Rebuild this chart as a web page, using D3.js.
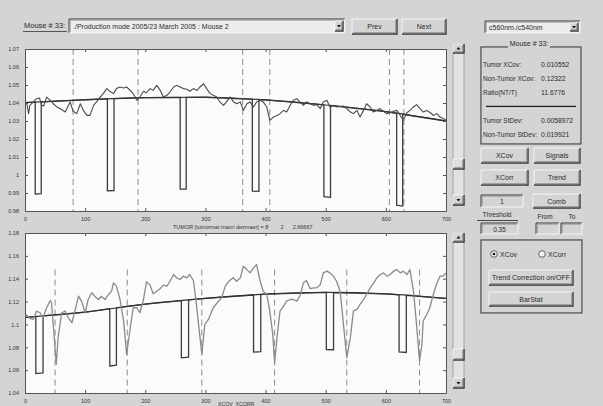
<!DOCTYPE html>
<html>
<head>
<meta charset="utf-8">
<script src="https://cdn.jsdelivr.net/npm/d3@7"></script>
<style>
  body { margin: 0; background: #d4d4d4; }
  svg { display: block; }
  text { font-family: "Liberation Sans", Arial, sans-serif; white-space: pre; }
</style>
</head>
<body>
<svg id="fig" width="603" height="406"></svg>
<script>
// ---------- data ----------
const xTicks = [0, 100, 200, 300, 400, 500, 600, 700];
const topYTicks = [1.07, 1.06, 1.05, 1.04, 1.03, 1.02, 1.01, 1.0, 0.99, 0.98];
const topYLabels = ["1.07", "1.06", "1.05", "1.04", "1.03", "1.02", "1.01", "1", "0.99", "0.98"];
const botYTicks = [1.18, 1.16, 1.14, 1.12, 1.10, 1.08, 1.06, 1.04];
const botYLabels = ["1.18", "1.16", "1.14", "1.12", "1.1", "1.08", "1.06", "1.04"];

// ratio signal, upper panel
const topSignalX = [0,3,6,8,14,19,24,28,31,36,42,47,53,58,67,75,80,86,92,97,103,108,114,119,125,130,136,141,147,152,158,164,169,175,180,186,191,197,202,208,213,219,225,230,236,241,247,252,258,263,269,274,280,286,291,297,302,308,313,319,324,330,335,341,347,352,358,363,369,374,380,385,391,396,402,407,413,419,424,430,435,441,446,452,457,463,468,474,480,485,491,496,502,507,513,518,529,535,541,546,552,557,563,568,574,579,585,590,596,601,607,613,618,624,629,635,640,646,651,657,662,668,674,679,685,690,696,700];
const topSignalY = [1.0396,1.0396,1.0341,1.0387,1.0406,1.0424,1.0428,1.0387,1.0383,1.0433,1.0415,1.0396,1.0378,1.0369,1.0350,1.0406,1.0354,1.0341,1.0396,1.0359,1.0331,1.0331,1.0387,1.0406,1.0433,1.0452,1.0480,1.0465,1.0452,1.0480,1.0489,1.0483,1.0489,1.0470,1.0452,1.0415,1.0433,1.0465,1.0457,1.0480,1.0470,1.0498,1.0470,1.0433,1.0443,1.0461,1.0489,1.0498,1.0489,1.0480,1.0476,1.0465,1.0480,1.0470,1.0489,1.0507,1.0480,1.0452,1.0443,1.0433,1.0406,1.0387,1.0406,1.0433,1.0406,1.0396,1.0406,1.0359,1.0396,1.0406,1.0378,1.0406,1.0415,1.0406,1.0378,1.0304,1.0322,1.0331,1.0341,1.0359,1.0350,1.0387,1.0415,1.0424,1.0406,1.0387,1.0406,1.0396,1.0387,1.0391,1.0369,1.0406,1.0415,1.0378,1.0387,1.0378,1.0383,1.0369,1.0350,1.0341,1.0359,1.0322,1.0359,1.0396,1.0378,1.0350,1.0359,1.0369,1.0354,1.0341,1.0346,1.0354,1.0359,1.0331,1.0304,1.0346,1.0359,1.0378,1.0391,1.0369,1.0350,1.0359,1.0346,1.0331,1.0341,1.0322,1.0313,1.0304];
const topTrendX = [0, 100, 200, 300, 400, 500, 600, 700];
const topTrendY = [1.0402, 1.0418, 1.0430, 1.0432, 1.0417, 1.0389, 1.0352, 1.0300];
const topDipStart = [17, 137, 258, 378, 497, 618];
const topDipEnd = [27, 148, 268, 389, 508, 628];
const topDipDepth = 0.051;
const topMarkers = [80, 188, 362, 407, 606, 630];

// ratio signal, lower panel
const botSignalX = [0,3,8,14,19,25,30,36,42,44,47,52,55,61,67,72,78,83,89,94,100,105,111,116,122,127,133,139,144,147,152,158,164,169,175,180,186,191,197,202,208,213,219,225,230,236,241,247,252,258,263,269,274,280,285,291,294,299,305,313,322,327,333,338,346,352,358,363,369,374,380,385,391,396,402,407,412,415,419,424,430,435,441,446,452,457,463,468,474,480,485,491,496,502,507,513,518,524,529,535,541,546,552,557,563,568,574,580,585,591,596,602,607,613,618,624,629,635,640,646,651,656,660,662,668,673,679,684,690,695,700];
const botSignalY = [1.1064,1.1082,1.1052,1.1044,1.1116,1.1102,1.1058,1.1146,1.1210,1.1189,1.1000,1.0651,1.0884,1.1102,1.1116,1.1058,1.1015,1.1116,1.1247,1.1204,1.1102,1.1218,1.1277,1.1247,1.1218,1.1247,1.1218,1.1262,1.1291,1.1364,1.1335,1.1218,1.1029,1.0738,1.0971,1.1146,1.1146,1.1102,1.1218,1.1373,1.1344,1.1268,1.1291,1.1314,1.1344,1.1335,1.1378,1.1437,1.1408,1.1393,1.1422,1.1408,1.1437,1.1384,1.1175,1.0884,1.0738,1.1000,1.1044,1.1146,1.1204,1.1233,1.1335,1.1373,1.1408,1.1378,1.1408,1.1509,1.1480,1.1451,1.1495,1.1524,1.1378,1.1291,1.1262,1.1116,1.0913,1.0665,1.0884,1.1116,1.1160,1.1204,1.1218,1.1218,1.1204,1.1247,1.1364,1.1384,1.1314,1.1320,1.1320,1.1349,1.1451,1.1466,1.1451,1.1422,1.1378,1.1291,1.1029,1.0709,1.0884,1.1116,1.1131,1.1175,1.1218,1.1262,1.1320,1.1364,1.1408,1.1437,1.1451,1.1422,1.1437,1.1466,1.1480,1.1451,1.1466,1.1437,1.1480,1.1291,1.1000,1.0680,1.0825,1.1029,1.1087,1.1146,1.1262,1.1349,1.1422,1.1422,1.1451];
const botTrendX = [0, 100, 200, 300, 400, 500, 600, 700];
const botTrendY = [1.1062, 1.1108, 1.1178, 1.1228, 1.1265, 1.1280, 1.1268, 1.1228];
const botDipStart = [18, 141, 260, 380, 501, 622];
const botDipEnd = [30, 152, 272, 392, 513, 634];
const botDipDepth = 0.050;
const botMarkers = [50, 170, 294, 415, 535, 656];
const botMarkerTop = 1.148;

// panel texts
const fileName = "./Production mode 2005/23 March 2005 : Mouse 2";
const mouseLabel = "Mouse # 33:";
const channelName = "c560nm./c540nm";
const statLabels = ["Tumor XCov:", "Non-Tumor XCov:", "Ratio(NT/T)", "Tumor StDev:", "Non-Tumor StDev:"];
const statValues = ["0.010552", "0.12322", "11.6776", "0.0058972", "0.019921"];
const xLabelTop = "TUMOR [tumormat macri dezmaer] = 8        2      2.66667";
const xLabelBot = "XCOV  XCORR";

// ---------- drawing ----------
const svg = d3.select("#fig");
const FACE = "#d4d4d4", HI = "#f4f4f4", SH = "#8a8a8a", DK = "#3a3a3a", TXT = "#2a2a2a";

function bevel(x, y, w, h, raised, fill) {
  const g = svg.append("g");
  g.append("rect").attr("x", x).attr("y", y).attr("width", w).attr("height", h).attr("fill", fill || FACE);
  const a = raised ? HI : DK, b = raised ? DK : HI;
  g.append("path").attr("d", `M${x},${y + h}V${y}H${x + w}`).attr("fill", "none").attr("stroke", a).attr("stroke-width", 1);
  g.append("path").attr("d", `M${x},${y + h}H${x + w}V${y}`).attr("fill", "none").attr("stroke", b).attr("stroke-width", raised ? 1.4 : 1);
  if (raised) g.append("path").attr("d", `M${x + 1},${y + h - 1.2}H${x + w - 1.2}V${y + 1}`).attr("fill", "none").attr("stroke", SH);
  else g.append("path").attr("d", `M${x + 1},${y + h - 1}V${y + 1}H${x + w - 1}`).attr("fill", "none").attr("stroke", SH);
  return g;
}
function label(x, y, s, anchor, size, fill) {
  return svg.append("text").attr("x", x).attr("y", y).attr("text-anchor", anchor || "start")
    .attr("font-size", size || 7).attr("fill", fill || TXT).text(s);
}
function button(x, y, w, h, s) {
  bevel(x, y, w, h, true);
  label(x + w / 2, y + h / 2 + 2.5, s, "middle", 7);
}
function arrowBox(x, y, w, h, down) {
  bevel(x, y, w, h, true);
  const cx = x + w / 2, cy = y + h / 2;
  const p = down ? `M${cx - 2},${cy - 1}L${cx + 2},${cy - 1}L${cx},${cy + 1.5}Z` : `M${cx - 2},${cy + 1}L${cx + 2},${cy + 1}L${cx},${cy - 1.5}Z`;
  svg.append("path").attr("d", p).attr("fill", "#111");
}
function popup(x, y, w, h, s) {
  bevel(x, y, w, h, false, "#ececec");
  label(x + 4, y + h / 2 + 2.5, s, "start", 7);
  arrowBox(x + w - 10, y + 2, 8, h - 4, true);
}

// top controls
label(24, 28, mouseLabel, "start", 7.5);
svg.append("line").attr("x1", 23).attr("x2", 67).attr("y1", 31.5).attr("y2", 31.5).attr("stroke", "#555");
popup(69, 19, 276, 14, fileName);
button(352, 19, 45, 15, "Prev");
button(402, 19, 44, 15, "Next");

// plot panels
function panel(cfg) {
  const x = d3.scaleLinear().domain([0, 700]).range([cfg.l, cfg.r]);
  const y = d3.scaleLinear().domain(cfg.yDomain).range([cfg.b, cfg.t]);
  const g = svg.append("g");
  g.append("rect").attr("x", cfg.l).attr("y", cfg.t).attr("width", cfg.r - cfg.l).attr("height", cfg.b - cfg.t).attr("fill", "#fbfbfb");

  const clipId = "clip" + cfg.t;
  svg.append("clipPath").attr("id", clipId).append("rect")
    .attr("x", cfg.l).attr("y", cfg.t).attr("width", cfg.r - cfg.l).attr("height", cfg.b - cfg.t);
  const plot = g.append("g").attr("clip-path", `url(#${clipId})`);

  // event markers
  plot.selectAll("line.mk").data(cfg.markers).join("line").attr("class", "mk")
    .attr("x1", d => x(d)).attr("x2", d => x(d))
    .attr("y1", y(cfg.markerTop)).attr("y2", y(cfg.yDomain[0]))
    .attr("stroke", "#8c8c8c").attr("stroke-width", 1).attr("stroke-dasharray", "6,4");

  // trend and comb step signal
  const trendAt = d3.scaleLinear().domain(cfg.trendX).range(cfg.trendY);
  const stepPts = [[0, trendAt(0)]];
  let prev = 0;
  cfg.dipStart.forEach((s, i) => {
    cfg.trendX.filter(t => t > prev && t < s).forEach(t => stepPts.push([t, trendAt(t)]));
    stepPts.push([s, trendAt(s)], [s, trendAt(s) - cfg.depth], [cfg.dipEnd[i], trendAt(cfg.dipEnd[i]) - cfg.depth], [cfg.dipEnd[i], trendAt(cfg.dipEnd[i])]);
    prev = cfg.dipEnd[i];
  });
  cfg.trendX.filter(t => t > prev).forEach(t => stepPts.push([t, trendAt(t)]));

  const lin = d3.line().x(d => x(d[0])).y(d => y(d[1]));
  plot.append("path").datum(stepPts).attr("d", lin).attr("fill", "none").attr("stroke", "#3c3c3c").attr("stroke-width", 1.3);

  const trend = cfg.trendX.map((t, i) => [t, cfg.trendY[i]]);
  plot.append("path").datum(trend).attr("d", d3.line().x(d => x(d[0])).y(d => y(d[1])).curve(d3.curveMonotoneX))
    .attr("fill", "none").attr("stroke", "#333").attr("stroke-width", 1.2);

  const sig = cfg.sigX.map((t, i) => [t, cfg.sigY[i]]);
  plot.append("path").datum(sig).attr("d", lin).attr("fill", "none")
    .attr("stroke", cfg.sigColor).attr("stroke-width", cfg.sigWidth).attr("stroke-linejoin", "round");

  // axes (ticks point inward on all four sides)
  const styleAxis = a => {
    a.select(".domain").attr("stroke", "#555");
    a.selectAll(".tick line").attr("stroke", "#555");
    a.selectAll(".tick text").attr("font-size", 5.5).attr("fill", "#333").attr("font-family", "Liberation Sans, Arial, sans-serif");
  };
  g.append("g").attr("transform", `translate(0,${cfg.b})`)
    .call(d3.axisBottom(x).tickValues(xTicks).tickSize(-3).tickSizeOuter(0).tickPadding(6).tickFormat(d3.format("d"))).call(styleAxis);
  g.append("g").attr("transform", `translate(0,${cfg.t})`)
    .call(d3.axisTop(x).tickValues(xTicks).tickSize(-3).tickSizeOuter(0).tickFormat("")).call(styleAxis);
  g.append("g").attr("transform", `translate(${cfg.l},0)`)
    .call(d3.axisLeft(y).tickValues(cfg.yTicks).tickSize(-3).tickSizeOuter(0).tickPadding(6).tickFormat((d, i) => cfg.yLabels[i])).call(styleAxis);
  g.append("g").attr("transform", `translate(${cfg.r},0)`)
    .call(d3.axisRight(y).tickValues(cfg.yTicks).tickSize(-3).tickSizeOuter(0).tickFormat("")).call(styleAxis);
}

panel({
  l: 25, r: 446, t: 49, b: 211, yDomain: [0.98, 1.07], yTicks: topYTicks, yLabels: topYLabels,
  sigX: topSignalX, sigY: topSignalY, sigColor: "#4a4a4a", sigWidth: 1.1,
  trendX: topTrendX, trendY: topTrendY, dipStart: topDipStart, dipEnd: topDipEnd, depth: topDipDepth,
  markers: topMarkers, markerTop: 1.07
});
panel({
  l: 25, r: 446, t: 233, b: 393, yDomain: [1.04, 1.18], yTicks: botYTicks, yLabels: botYLabels,
  sigX: botSignalX, sigY: botSignalY, sigColor: "#8a8a8a", sigWidth: 1.3,
  trendX: botTrendX, trendY: botTrendY, dipStart: botDipStart, dipEnd: botDipEnd, depth: botDipDepth,
  markers: botMarkers, markerTop: botMarkerTop
});

label(173, 228.5, xLabelTop, "start", 5.5, "#333");
label(218, 405.6, xLabelBot, "start", 5.2, "#333");

// scrollbars beside the plots
function scrollbar(x, y0, y1, thumbY, thumbH) {
  svg.append("rect").attr("x", x).attr("y", y0).attr("width", 11).attr("height", y1 - y0)
    .attr("fill", "#e2e2e2").attr("stroke", "#9a9a9a").attr("stroke-width", 0.8);
  arrowBox(x, y0, 11, 9, false);
  arrowBox(x, y1 - 10, 11, 10, true);
  bevel(x, thumbY, 11, thumbH, true, "#dedede");
}
scrollbar(453, 44, 205, 159, 10);
scrollbar(453, 233, 388, 349, 11);

// right-hand panel
popup(485, 21, 95, 12, channelName);

function groupBox(x, y, w, h) {
  svg.append("rect").attr("x", x + 0.5).attr("y", y + 0.5).attr("width", w).attr("height", h).attr("fill", "none").attr("stroke", HI);
  svg.append("rect").attr("x", x).attr("y", y).attr("width", w).attr("height", h).attr("fill", "none").attr("stroke", "#404040").attr("stroke-width", 1.2);
}
groupBox(481, 47, 100, 97);
svg.append("rect").attr("x", 508).attr("y", 43).attr("width", 42).attr("height", 8).attr("fill", FACE);
label(529, 46, mouseLabel, "middle", 7);

const rowY = [67, 81, 95, 123, 137];
statLabels.forEach((s, i) => {
  label(483, rowY[i], s, "start", 6.5);
  label(541, rowY[i], statValues[i], "start", 6.8);
});
svg.append("line").attr("x1", 486).attr("x2", 576).attr("y1", 106.5).attr("y2", 106.5).attr("stroke", "#222").attr("stroke-width", 1.6);
svg.append("line").attr("x1", 486).attr("x2", 576).attr("y1", 108).attr("y2", 108).attr("stroke", HI).attr("stroke-width", 0.8);

button(481, 148, 47, 15, "XCov");
button(534, 148, 46, 15, "Signals");
button(481, 170, 47, 15, "XCorr");
button(534, 170, 46, 15, "Trend");

bevel(481, 195, 42, 12, false);
label(502, 204, "1", "middle", 7);
button(533, 194, 47, 14, "Comb");

label(497, 217, "Threshold", "middle", 6.5);
svg.append("line").attr("x1", 477).attr("x2", 518).attr("y1", 220.5).attr("y2", 220.5).attr("stroke", "#444");
bevel(481, 223, 37, 11, false);
label(499.5, 231.5, "0.35", "middle", 6.5);
label(545, 219, "From", "middle", 6.5);
label(572, 219, "To", "middle", 6.5);
bevel(536, 223, 23, 11, false);
bevel(561, 223, 21, 11, false);

groupBox(481, 240, 101, 73);
function radio(cx, cy, s, on) {
  svg.append("circle").attr("cx", cx).attr("cy", cy).attr("r", 3.3).attr("fill", "#f2f2f2").attr("stroke", "#555").attr("stroke-width", 0.9);
  if (on) svg.append("circle").attr("cx", cx).attr("cy", cy).attr("r", 1.3).attr("fill", "#111");
  label(cx + 6, cy + 2.5, s, "start", 7);
}
radio(494, 254, "XCov", true);
radio(542, 254, "XCorr", false);
button(489, 270, 84, 15, "Trend Correction on/OFF");
button(489, 292, 84, 14, "BarStat");
</script>
</body>
</html>
